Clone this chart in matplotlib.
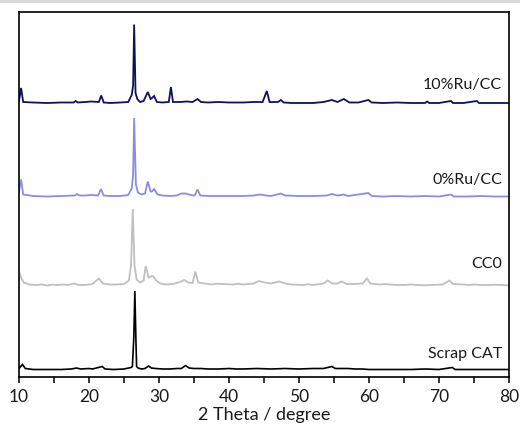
import matplotlib
matplotlib.use("Agg")
import matplotlib.pyplot as plt
from matplotlib.ticker import MultipleLocator
from matplotlib.patches import Rectangle

plt.rcParams['font.family'] = ['Lato', 'DejaVu Sans']

# ---- data (2theta in degree, intensity a.u. above each baseline) ----
ru10_x = [10.0, 10.3, 10.6, 12, 14, 16, 17.8, 18.1, 18.4, 19.5, 20.3, 21.4, 21.75, 22.1, 23, 24.5,
          25.6, 26.1, 26.3, 26.45, 26.65, 26.9, 27.3, 27.8, 28.4, 28.8, 29.0, 29.3, 29.7, 30.5, 31.4,
          31.7, 32.0, 33, 34, 34.8, 35.5, 36.0, 37, 38.5, 40, 42, 43.5, 44.8, 45.4, 45.8, 47, 47.4,
          47.8, 49, 50.5, 52, 53.5, 54.7, 55.5, 56.4, 57.2, 58.5, 59.9, 60.4, 62, 64, 66, 68, 68.3,
          68.6, 70, 71.7, 72.0, 73.5, 75.4, 75.7, 77, 78.5, 80]
ru10_y = [2, 15, 1, 0.5, 0, 0.5, 0.5, 2, 0.5, 1, 1.5, 1, 7.5, 0.5, 0, 0.5,
          1, 8, 17, 78.5, 10, 4, 1, 2, 11, 4, 5, 7, 1, 0.5, 1,
          16, 1, 1, 1.5, 1, 4, 1, 0.5, 1, 0.5, 0.5, 1, 1, 12, 1, 1, 3,
          0.5, 0, 0, 0, 1, 3, 1, 4, 0.5, 0.5, 3, 0.5, 0, 0.5, 0, 0, 1.5,
          0, 0, 2, 0, 0, 2, 0, 0, 0, 0]

ru0_x = [10.0, 10.3, 10.6, 12, 14, 16, 18, 18.3, 18.6, 19.5, 20.3, 21.3, 21.7, 22.1, 23, 24.5,
         25.6, 26.1, 26.3, 26.45, 26.7, 27.0, 27.5, 28.0, 28.4, 28.8, 29.0, 29.3, 29.8, 30.5, 31.5,
         32.5, 33.2, 33.8, 34.5, 35.1, 35.5, 35.9, 37, 38.5, 40, 42, 43.5, 44.5, 45.3, 46, 47.4,
         48, 50, 52, 54, 54.7, 55.5, 56.4, 57, 59.9, 60.4, 62, 64, 66, 68, 70, 71.7, 72.1, 74,
         76, 78, 80]
ru0_y = [5, 17, 2, 0.5, 0, 0.5, 1, 2.5, 1, 1, 1.5, 1, 7.5, 1, 0.5, 0.5,
         1.5, 8, 21, 78.5, 12, 4, 2, 3, 15, 5, 5, 7.5, 2, 1, 0.5,
         1, 3, 3, 1.5, 1, 7, 1, 0.5, 0.5, 0.5, 0.5, 1, 2, 1, 0.5, 3,
         1, 0.5, 0.5, 1, 2.5, 1, 2, 0.5, 3.5, 0.5, 0, 0.5, 0, 0.5, 0, 2, 0, 0,
         0.5, 0, 0]

cc0_x = [10.0, 10.3, 10.7, 11.5, 12.5, 13.3, 14, 14.8, 15.5, 16.3, 17, 17.9, 18.5, 19.5, 20.5,
         21.4, 22, 23, 24, 25, 25.7, 26.0, 26.25, 26.5, 26.8, 27.3, 27.8, 28.1, 28.5, 28.8, 29.1,
         29.6, 30.2, 31, 32, 33, 33.6, 34.2, 34.8, 35.2, 35.6, 36.5, 37.5, 38.3, 39, 40.5, 41.3,
         42, 43.5, 44.3, 45, 46, 47.2, 48, 49, 50.5, 51.3, 52, 53.5, 54.1, 54.8, 55.5, 56.1,
         56.8, 58, 59.1, 59.7, 60.2, 61.5, 62.3, 63, 64, 65, 66, 67, 68, 69, 70.5, 71.5, 72, 73.5,
         74.3, 75, 76, 77, 78, 79, 80]
cc0_y = [14, 8, 3, 1, 0.5, 1, 0, 0.8, 0.5, 1, 0.5, 2, 0.5, 0.5, 1.5,
         7, 2, 1, 1, 1.5, 5, 20, 76.5, 20, 6, 3, 5, 19.5, 8, 9, 9.5,
         5, 2, 1, 1.5, 3.5, 5.5, 3, 2.5, 14, 3, 2, 1, 1.8, 1.5, 1, 1.8,
         1, 2, 4.5, 3, 2, 4, 2, 1, 0.5, 1.2, 0.5, 2, 5, 2, 2, 4,
         1.5, 1.5, 2, 7, 2, 1, 1.5, 1, 0.5, 0.5, 1, 0.5, 0.2, 0.5, 1, 5, 1.5, 1,
         0.5, 1, 0.5, 0.5, 0.8, 0.5, 0]

scrap_x = [10.0, 10.5, 10.9, 12, 14, 16, 17.5, 18.2, 18.8, 20, 20.5, 21.9, 22.3, 23.5, 25,
           26.0, 26.2, 26.4, 26.55, 26.7, 26.8, 27.0, 27.5, 28.0, 28.5, 28.9, 29.5, 30.5, 31.5,
           32.6, 33.2, 33.8, 34.3, 35, 36, 37, 38.5, 40, 41, 42, 44, 46, 48, 50, 52, 53.5, 54.7,
           55.2, 56, 57, 58, 59, 60, 62, 64, 66, 68, 70, 71.9, 72.3, 74, 76, 78, 80]
scrap_y = [1, 5, 1, 0, 0, 0, 0.5, 1.5, 0.5, 1, 0.5, 3, 0.5, 0, 0.5,
           2, 3, 32, 78.5, 30, 3, 1.5, 0.5, 1, 3.5, 1.5, 1, 0.5, 0.5,
           1, 1, 4, 1.5, 1, 1, 0.5, 0.5, 1, 0.5, 0.5, 1, 0.5, 1, 0.5, 1, 1, 3,
           1, 1, 1, 0.5, 0.5, 0, 0, 0, 0, 0.5, 0, 2, 0, 0, 0, 0, 0]

series_names = ["Scrap CAT", "CC0", "0%Ru/CC", "10%Ru/CC"]
series_x = [scrap_x, cc0_x, ru0_x, ru10_x]
series_y = [scrap_y, cc0_y, ru0_y, ru10_y]

xticks = [10, 20, 30, 40, 50, 60, 70, 80]

# ---- layout / style ----
offsets = [7.5, 91.5, 180.5, 274]
label_y = [23, 113, 197, 292]
colors = ["#000000", "#c0c0c0", "#8c8ce4", "#10105e"]
lws = [1.2, 1.3, 1.3, 1.3]

fig = plt.figure(figsize=(5.2, 4.3), dpi=100)
fig.patches.append(Rectangle((0, 1 - 3 / 430), 1, 3 / 430, transform=fig.transFigure,
                             facecolor="#d9d9d9", edgecolor="none", zorder=0))
ax = fig.add_axes([19 / 520, 53 / 430, 490 / 520, 365 / 430])

for name, xs, ys, off, ly, c, lw in zip(series_names, series_x, series_y, offsets, label_y, colors, lws):
    ax.plot(xs, [v + off for v in ys], color=c, lw=lw, solid_joinstyle="miter")
    ax.text(79.0, ly, name, ha="right", va="center", fontsize=11.5, color="#1a1a1a")

ax.set_xlim(10, 80)
ax.set_ylim(0, 365)
ax.set_xticks(xticks)
ax.set_xticklabels([str(t) for t in xticks])
ax.xaxis.set_minor_locator(MultipleLocator(5))
ax.set_yticks([])
ax.tick_params(axis="x", which="both", direction="out", length=4, width=1.1,
               labelsize=12.5, pad=5, colors="#000000", labelcolor="#1a1a1a")
for s in ax.spines.values():
    s.set_linewidth(1.2)
    s.set_color("#000000")
ax.set_xlabel("2 Theta / degree", fontsize=13, labelpad=1, color="#1a1a1a")

fig.savefig("out.png", dpi=100)
